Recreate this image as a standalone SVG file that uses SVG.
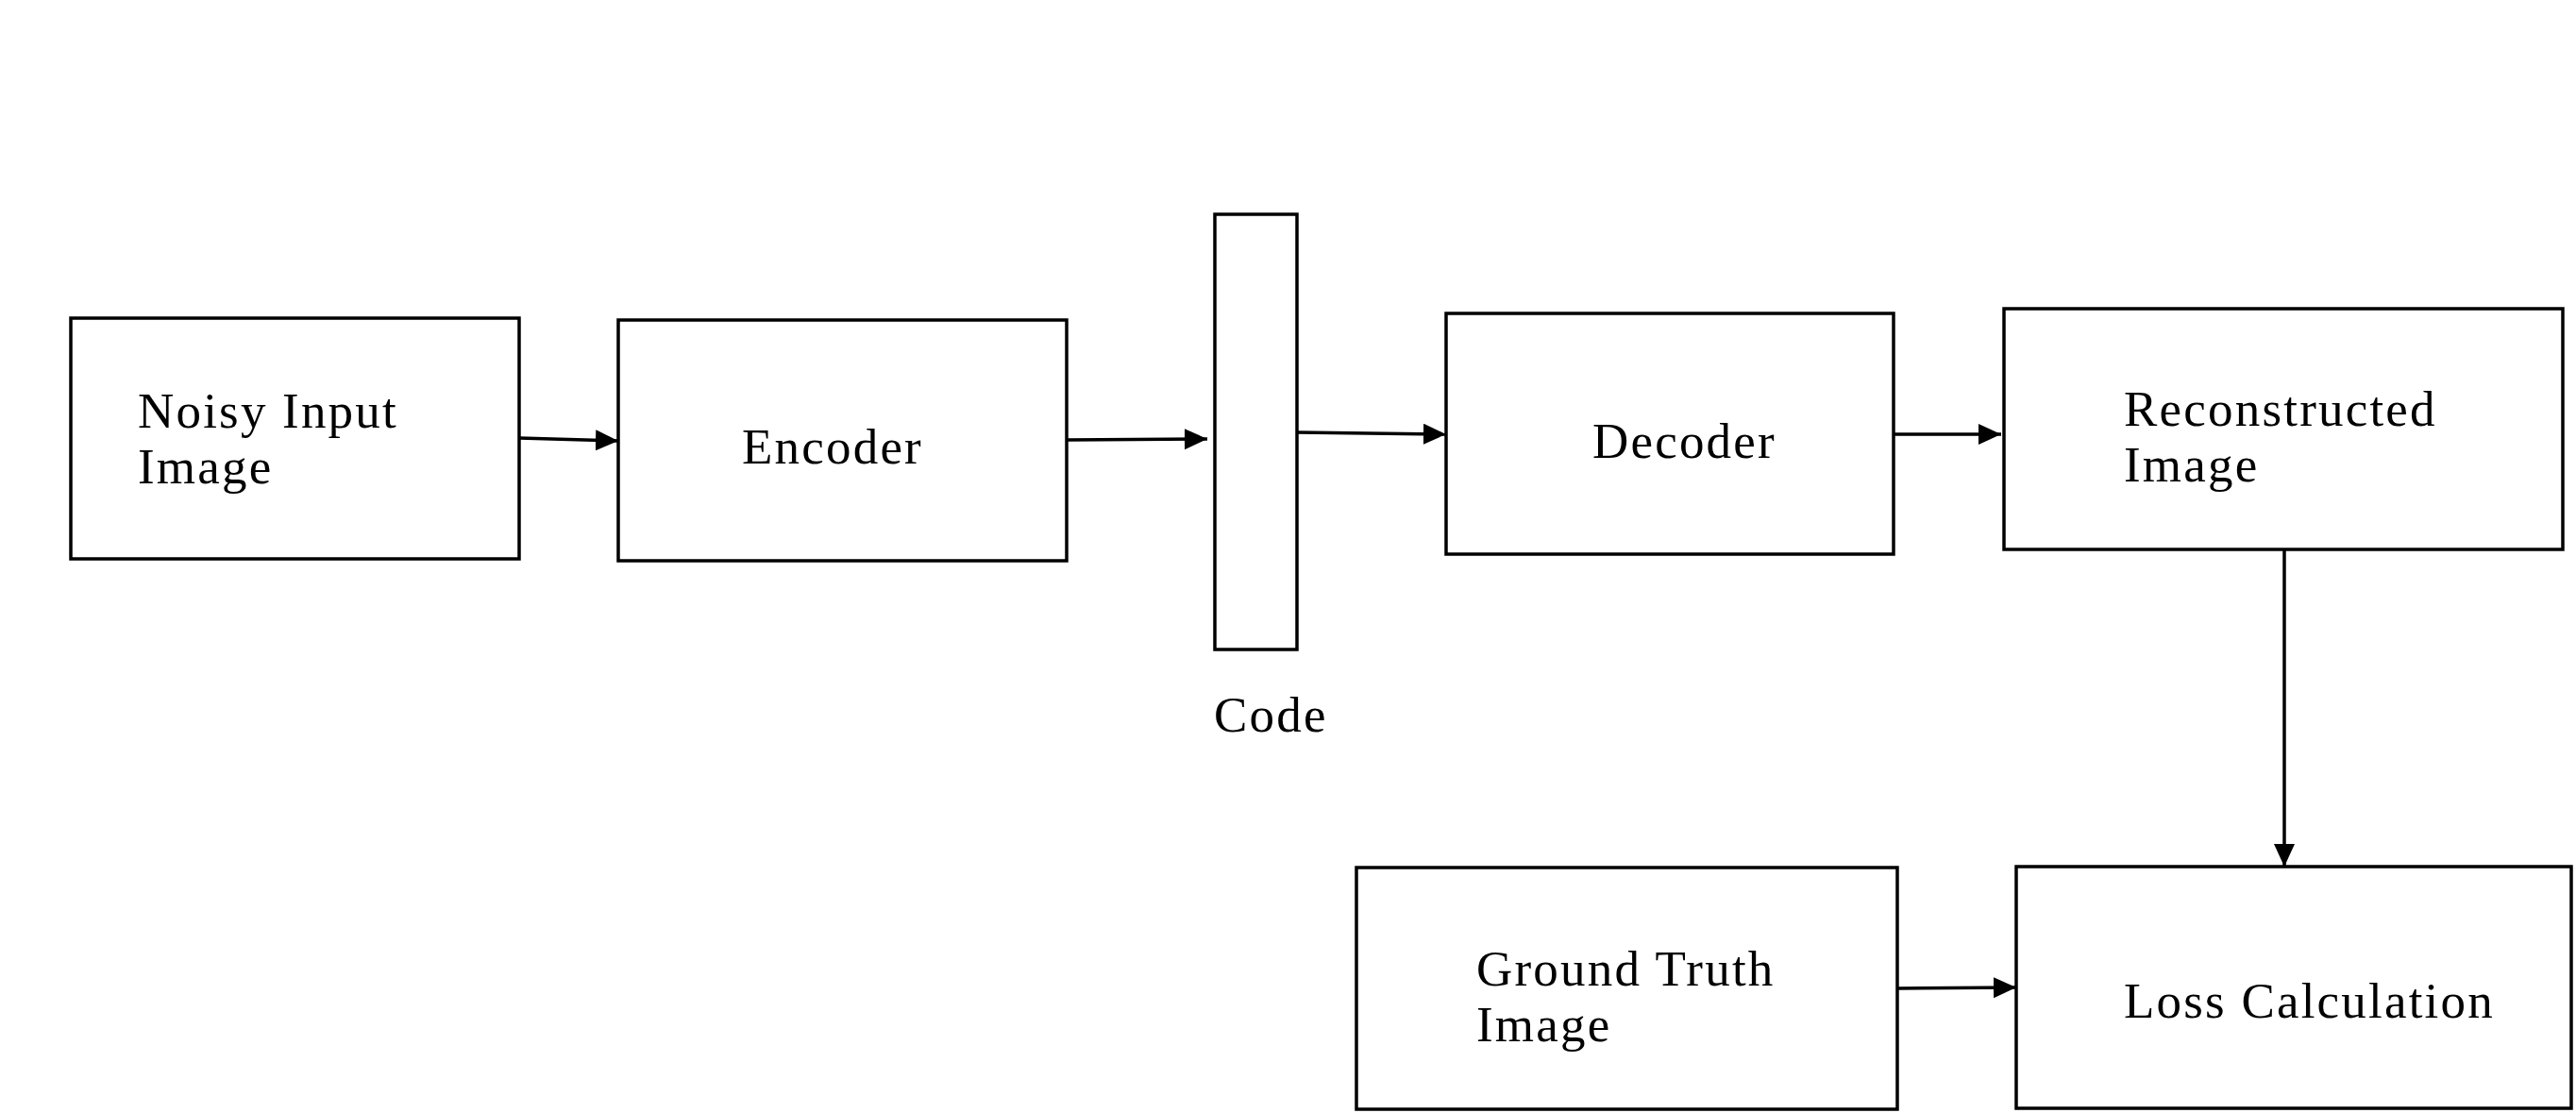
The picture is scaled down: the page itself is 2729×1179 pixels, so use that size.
<svg xmlns="http://www.w3.org/2000/svg" width="2729" height="1179" viewBox="0 0 2729 1179">
<style>
.box{fill:#fff;stroke:#000;stroke-width:3.5}
.lbl{font-family:"Liberation Serif","Times New Roman",serif;font-size:53px;letter-spacing:2.2px;fill:#000}
.edge{stroke:#000;stroke-width:3.5;fill:none}
</style>
<defs>
<marker id="ah" markerUnits="userSpaceOnUse" markerWidth="26" markerHeight="24" refX="24" refY="11" orient="auto">
<path d="M0,0 L24,11 L0,22 Z" fill="#000"/>
</marker>
</defs>
<rect width="2729" height="1179" fill="#fff"/>
<g id="noisy">
<rect class="box" x="75" y="337" width="475" height="255"/>
<text class="lbl" x="146" y="453">Noisy Input</text>
<text class="lbl" x="146" y="512">Image</text>
</g>
<g id="encoder">
<rect class="box" x="655" y="339" width="475" height="255"/>
<text class="lbl" x="786" y="491">Encoder</text>
</g>
<g id="code">
<rect class="box" x="1287" y="227" width="87" height="461"/>
<text class="lbl" x="1286" y="775">Code</text>
</g>
<g id="decoder">
<rect class="box" x="1532" y="332" width="474" height="255"/>
<text class="lbl" x="1687" y="485">Decoder</text>
</g>
<g id="reconstructed">
<rect class="box" x="2123" y="327" width="592" height="255"/>
<text class="lbl" x="2250" y="451">Reconstructed</text>
<text class="lbl" x="2250" y="510">Image</text>
</g>
<g id="groundtruth">
<rect class="box" x="1437" y="919" width="573" height="256"/>
<text class="lbl" x="1564" y="1044">Ground Truth</text>
<text class="lbl" x="1564" y="1103">Image</text>
</g>
<g id="loss">
<rect class="box" x="2136" y="918" width="588" height="256"/>
<text class="lbl" x="2250" y="1078">Loss Calculation</text>
</g>
<g id="connectors">
<line class="edge" x1="550" y1="464" x2="655" y2="467" marker-end="url(#ah)"/>
<line class="edge" x1="1130" y1="466" x2="1279" y2="465" marker-end="url(#ah)"/>
<line class="edge" x1="1374" y1="458" x2="1532" y2="460" marker-end="url(#ah)"/>
<line class="edge" x1="2006" y1="460" x2="2120" y2="460" marker-end="url(#ah)"/>
<line class="edge" x1="2420" y1="582" x2="2420" y2="918" marker-end="url(#ah)"/>
<line class="edge" x1="2010" y1="1047" x2="2136" y2="1046" marker-end="url(#ah)"/>
</g>
</svg>
